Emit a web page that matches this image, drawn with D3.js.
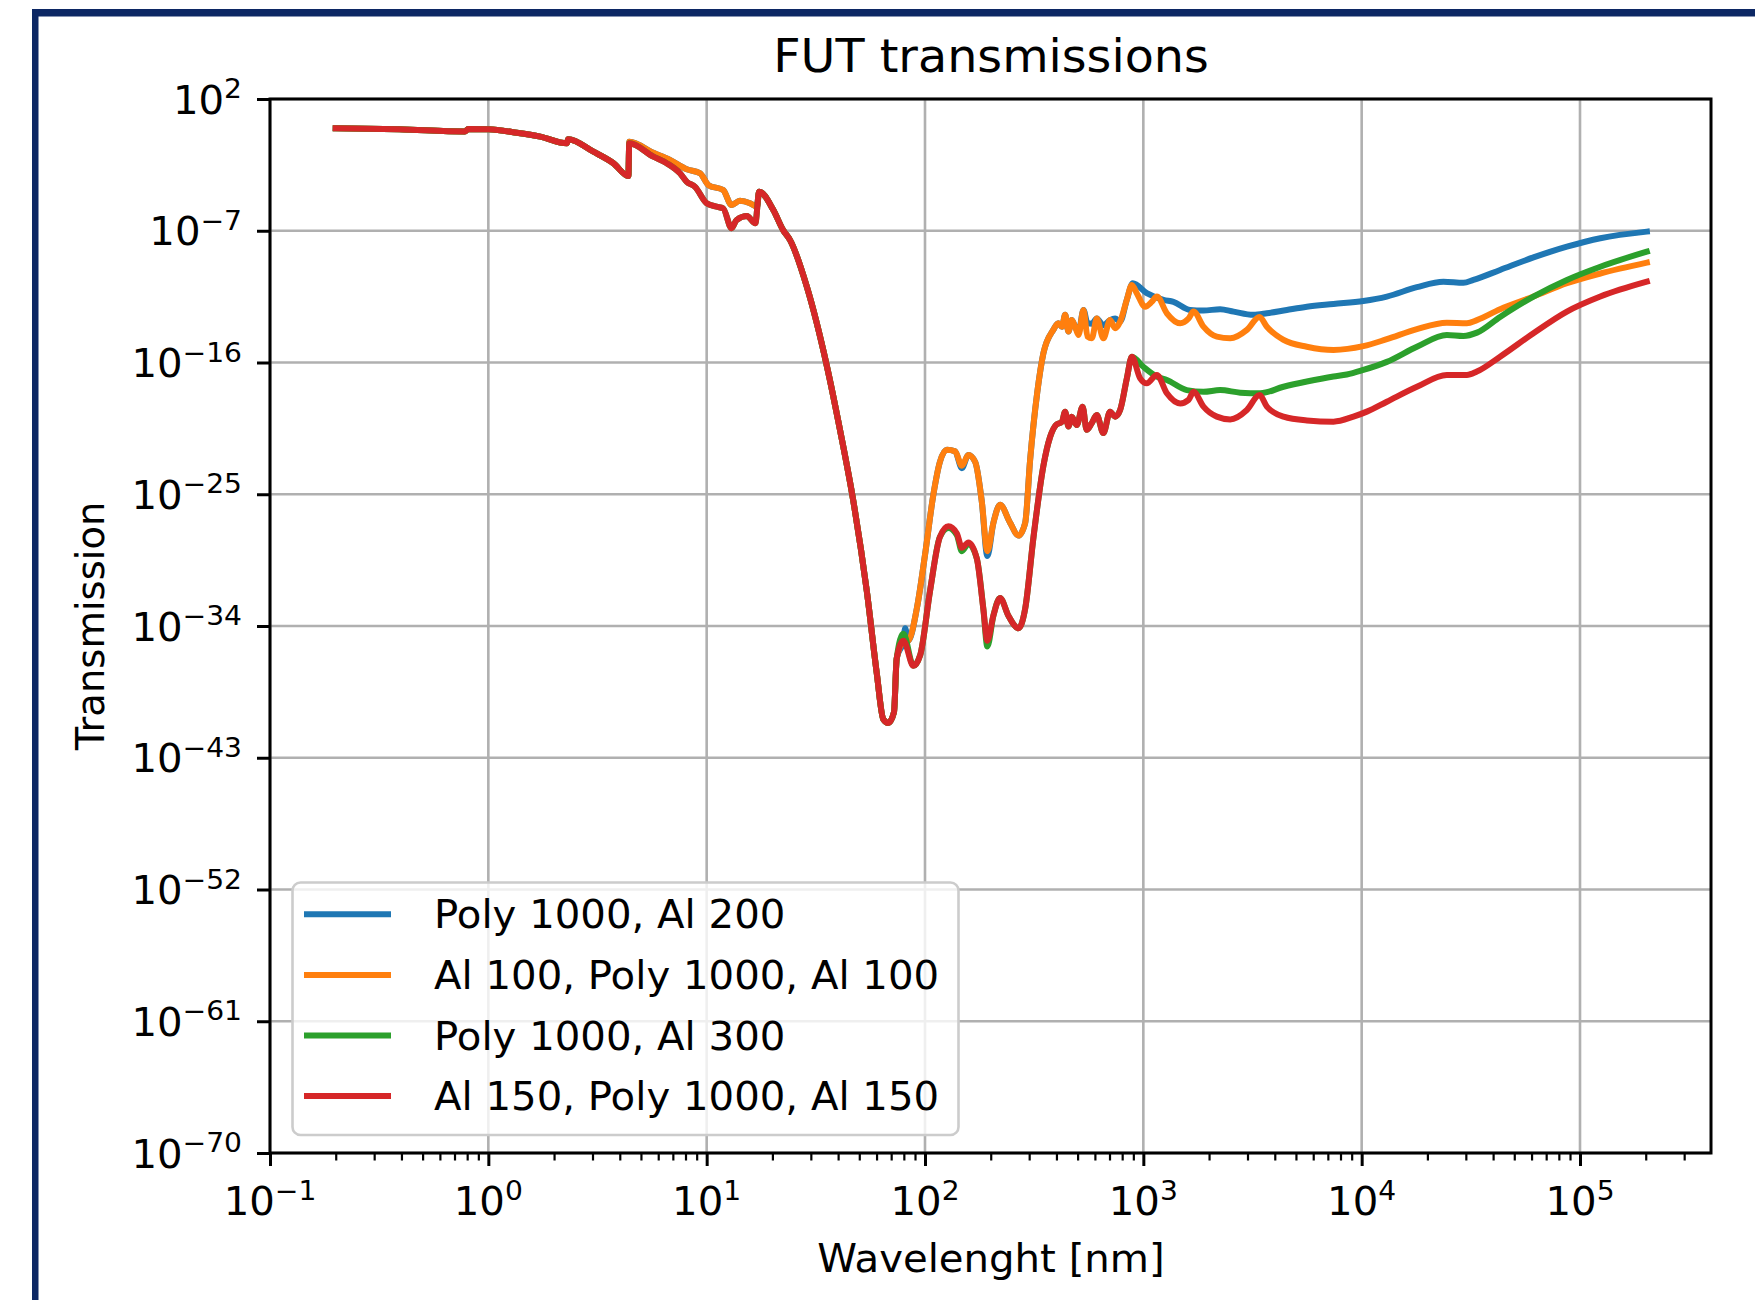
<!DOCTYPE html>
<html><head><meta charset="utf-8">
<script src="https://cdn.jsdelivr.net/npm/d3@7"></script>
<style>body{margin:0;background:#fff}svg{display:block}</style>
</head><body>
<svg id="chart" width="1755" height="1300"></svg>
<script>
// ---------------- DATA ----------------
const seriesNames = ["Poly 1000, Al 200", "Al 100, Poly 1000, Al 100", "Poly 1000, Al 300", "Al 150, Poly 1000, Al 150"];
const seriesColors = ["#1f77b4", "#ff7f0e", "#2ca02c", "#d62728"];
const xTickExp = [-1, 0, 1, 2, 3, 4, 5];
const yTickExp = [2, -7, -16, -25, -34, -43, -52, -61, -70];

// wavelength in nm, transmission (fraction)
// X-ray start, shared by all four filters
const wlStart = [0.2, 0.39, 0.78, 0.81, 1.0, 1.35, 1.73, 2.29, 2.32, 3.03, 3.74, 4.38];
const tStart  = [1.0, 0.85, 0.6, 0.9, 0.85, 0.5, 0.27, 0.094, 0.18, 0.025, 4.1e-3, 5.5e-4];
// edge region, 200 nm total Al (blue / orange)
const wlEdgeThin = [4.42, 5.7, 6.79, 8.11, 9.33, 10.2, 11.9, 13.0, 14.2, 15.8, 17.0];
const tEdgeThin  = [0.12, 0.021, 6.8e-3, 1.6e-3, 8.4e-4, 1.3e-4, 6e-5, 5.8e-6, 1.1e-5, 7.6e-6, 4.4e-6];
// edge region, 300 nm total Al (green / red)
const wlEdgeThick = [4.42, 5.7, 6.56, 7.55, 8.11, 8.85, 10.0, 11.1, 11.9, 13.0, 13.7, 15.3, 16.7];
const tEdgeThick  = [0.094, 0.0115, 4.1e-3, 8.4e-4, 2.2e-4, 1.0e-4, 7.6e-6, 4.4e-6, 3.4e-6, 1.5e-7, 5.4e-7, 1.0e-6, 3.2e-7];
// EUV trough, shared
const wlTrough = [17.4, 20.2, 22.4, 24.1, 28.8, 35.5, 40.8, 47.0, 54.1, 60.1, 64.4, 67.9, 72.1, 74.2];
const tTrough  = [4.7e-5, 2.6e-6, 1.1e-7, 2.3e-8, 1.4e-11, 6e-17, 2.5e-21, 3.2e-26, 2.6e-32, 6.3e-38, 4.3e-41, 2.4e-41, 1.3e-40, 6e-37];
// UV region
const wlUvBlue = [79.6, 81.1, 83.9, 91.7, 100, 109.3, 117, 126, 137.4, 147.5, 158, 169.8, 182, 193, 205.7, 220.7, 245.5, 268, 287.6, 303, 326.5, 348.6, 387, 408];
const tUvBlue  = [1e-35, 7e-35, 1e-35, 1.5e-33, 7.1e-30, 1e-25, 1.6e-23, 1.1e-22, 8.5e-23, 6e-24, 4.8e-23, 1.6e-23, 3.2e-26, 6e-30, 1.1e-27, 1.9e-26, 1.1e-27, 1.5e-28, 1.1e-27, 2.2e-23, 8.3e-19, 4.3e-16, 1.7e-14, 4.8e-14];
const wlUvOrange = [79.6, 83.9, 91.7, 100, 109.3, 117, 126, 137.4, 147.5, 158, 169.8, 182, 193, 205.7, 220.7, 245.5, 268, 287.6, 303, 326.5, 348.6, 387, 408];
const tUvOrange  = [8e-36, 1e-35, 1.5e-33, 7.1e-30, 1e-25, 1.6e-23, 1.1e-22, 8.5e-23, 8.9e-24, 4.8e-23, 1.6e-23, 3.2e-26, 1.3e-29, 1.1e-27, 1.9e-26, 1.1e-27, 1.5e-28, 1.1e-27, 2.2e-23, 8.3e-19, 4.3e-16, 1.7e-14, 4.8e-14];
const wlUvThick = [79.6, 88.5, 95, 105.5, 117, 128, 140, 147.5, 158, 172.7, 185, 193, 205.7, 220.7, 241, 268, 287.6, 314, 348.6, 374, 398, 424];
const tUvGreen  = [3e-35, 1.9e-37, 1e-36, 2.6e-32, 1.2e-28, 5e-28, 1.6e-28, 1.3e-29, 4e-29, 4.1e-30, 1.5e-33, 4e-36, 5.1e-34, 8.3e-33, 5.1e-34, 7e-35, 1.5e-33, 1.2e-28, 8.9e-24, 8.1e-22, 5.4e-21, 9.1e-21];
const tUvRed    = [1e-35, 1.9e-37, 1e-36, 2.6e-32, 1.2e-28, 6.4e-28, 2.1e-28, 2.2e-29, 5.1e-29, 4.1e-30, 1.5e-33, 1e-35, 5.1e-34, 8.3e-33, 5.1e-34, 7e-35, 1.5e-33, 1.2e-28, 8.9e-24, 8.1e-22, 5.4e-21, 9.1e-21];
// interference region
const wlOscBlue = [424, 438.5, 454, 470, 487, 505, 532, 555, 581, 612, 656, 704, 743, 783, 840, 895];
const tOscBlue  = [2.8e-14, 1.8e-13, 1.3e-14, 7.9e-14, 2.8e-14, 1.2e-14, 3.9e-13, 4.8e-14, 4.5e-14, 1e-13, 3.5e-14, 7.9e-14, 1e-13, 6.2e-14, 1.9e-12, 2.6e-11];
const wlOscThin = [424, 438.5, 454, 470, 487, 505, 532, 555, 581, 612, 656, 704, 743, 783, 840, 886];
const tOscThin  = [2.8e-14, 1.8e-13, 1.3e-14, 7.9e-14, 2.8e-14, 7.6e-15, 3.9e-13, 5.8e-15, 4.5e-15, 1e-13, 4.5e-15, 7.9e-14, 2.2e-14, 6.2e-14, 1.9e-12, 2e-11];
const wlOscThick = [438.5, 454, 470, 495.5, 527, 550, 580, 612, 656, 704, 743, 783, 840, 886];
const tOscThick  = [4.4e-20, 4.2e-21, 2e-20, 5.4e-21, 9.6e-20, 2.5e-21, 7.1e-21, 2.6e-20, 1.5e-21, 4.4e-20, 2e-20, 5.7e-20, 8e-18, 2.5e-16];
// infrared tails
const wlTailBlue = [1037, 1237, 1374, 1637, 1886, 2248, 2590, 3190, 3680, 4540, 5610, 7430, 10180, 13040, 17900, 23700, 29240, 32500, 43050, 61200, 87100, 123900, 202400];
const tTailBlue  = [5.4e-12, 1.9e-12, 1.4e-12, 3.9e-13, 3.5e-13, 4.4e-13, 3e-13, 1.8e-13, 2.3e-13, 3.9e-13, 6.5e-13, 1e-12, 1.6e-12, 3.2e-12, 1.4e-11, 3.3e-11, 2.8e-11, 4.4e-11, 2.1e-10, 1.5e-9, 8.1e-9, 3.1e-8, 8.7e-8];
const wlTailOrange = [933, 1019, 1093, 1153, 1282, 1476, 1611, 1698, 1886, 2171, 2500, 2980, 3404, 3680, 4387, 5610, 7430, 10180, 13040, 17900, 24550, 30330, 33730, 43050, 61200, 87100, 123900, 202400];
const tTailOrange  = [5.4e-12, 6.5e-13, 1.4e-12, 3.2e-12, 2.3e-13, 4.8e-14, 1e-13, 3e-13, 2.8e-14, 5.8e-15, 4.5e-15, 1.7e-14, 1.3e-13, 2.8e-14, 3.5e-15, 1.2e-15, 7.2e-16, 1.3e-15, 3.9e-15, 1.9e-14, 5.2e-14, 4.8e-14, 7.9e-14, 4.4e-13, 3.2e-12, 2.6e-11, 1.2e-10, 6.6e-10];
const wlTailGreen = [1000, 1153, 1282, 1581, 1886, 2248, 2778, 3430, 4387, 5610, 7430, 8550, 10180, 13040, 17900, 24550, 29240, 33730, 43050, 61200, 87100, 123900, 202400];
const tTailGreen  = [5.1e-17, 1.1e-17, 6.4e-18, 1.3e-18, 1e-18, 1.3e-18, 8.7e-19, 7.9e-19, 2.2e-18, 5e-18, 1.1e-17, 1.5e-17, 3.1e-17, 1.1e-16, 1.2e-15, 7.6e-15, 6.5e-15, 1.1e-14, 1.3e-13, 3.2e-12, 4.4e-11, 3.5e-10, 3.7e-9];
const wlTailRed = [967, 1037, 1153, 1282, 1476, 1611, 1698, 1886, 2171, 2500, 2980, 3404, 3680, 4387, 5610, 7430, 9170, 10560, 13040, 17900, 24550, 30330, 33700, 43050, 61200, 87100, 123900, 202400];
const tTailRed  = [8.3e-18, 3.8e-18, 1.4e-17, 7.9e-19, 1.6e-19, 2.8e-19, 1e-18, 9.6e-20, 2e-20, 1.3e-20, 5.7e-20, 6e-19, 9.6e-20, 2e-20, 1.1e-20, 9.1e-21, 2e-20, 4.4e-20, 2.1e-19, 2.2e-18, 1.4e-17, 1.4e-17, 2.4e-17, 2.5e-16, 1e-14, 3e-13, 3.2e-12, 3.3e-11];

// ---------------- BUILD SERIES ----------------
function join(wls, ts) {
  const w = [].concat(...wls), t = [].concat(...ts);
  return w.map((v, i) => ({ wl: v, t: t[i] }));
}
const series = [
  join([wlStart, wlEdgeThin, wlTrough, wlUvBlue, wlOscBlue, wlTailBlue], [tStart, tEdgeThin, tTrough, tUvBlue, tOscBlue, tTailBlue]),
  join([wlStart, wlEdgeThin, wlTrough, wlUvOrange, wlOscThin, wlTailOrange], [tStart, tEdgeThin, tTrough, tUvOrange, tOscThin, tTailOrange]),
  join([wlStart, wlEdgeThick, wlTrough, wlUvThick, wlOscThick, wlTailGreen], [tStart, tEdgeThick, tTrough, tUvGreen, tOscThick, tTailGreen]),
  join([wlStart, wlEdgeThick, wlTrough, wlUvThick, wlOscThick, wlTailRed], [tStart, tEdgeThick, tTrough, tUvRed, tOscThick, tTailRed])
];

// ---------------- DRAW ----------------
const W = 1755, H = 1300;
const FONT = "DejaVu Sans";
const SX = 1.045;
const FS = 38.5;
const LW = 6;
const P = { left: 270, right: 1711, top: 99, bottom: 1153 };
const svg = d3.select("#chart").attr("font-family", FONT);
svg.append("rect").attr("width", W).attr("height", H).attr("fill", "#fff");

const navy = "#0c2764";
svg.append("rect").attr("x", 32).attr("y", 9).attr("width", W - 32).attr("height", 7.5).attr("fill", navy);
svg.append("rect").attr("x", 32).attr("y", 9).attr("width", 6.5).attr("height", H - 9).attr("fill", navy);

const x = d3.scaleLog().domain([0.1, Math.pow(10, 5.6)]).range([P.left, P.right]);
const y = d3.scaleLog().domain([1e-70, 1e2]).range([P.bottom, P.top]);
const xMajor = xTickExp.map(e => Math.pow(10, e));
const yMajor = yTickExp.map(e => Math.pow(10, e));
const xMinor = [];
for (let e = -1; e <= 5; e++) for (let m = 2; m <= 9; m++) { const v = m * Math.pow(10, e); if (v <= x.domain()[1]) xMinor.push(v); }

// grid
const grid = svg.append("g").attr("stroke", "#b0b0b0").attr("stroke-width", 2.6);
grid.selectAll("line.gx").data(xMajor).join("line").attr("x1", d => x(d)).attr("x2", d => x(d)).attr("y1", P.top).attr("y2", P.bottom);
grid.selectAll("line.gy").data(yMajor).join("line").attr("y1", d => y(d)).attr("y2", d => y(d)).attr("x1", P.left).attr("x2", P.right);

// lines
const line = d3.line().x(d => x(d.wl)).y(d => y(d.t)).curve(d3.curveMonotoneX);
svg.append("g").selectAll("path").data(series).join("path")
  .attr("d", line).attr("fill", "none")
  .attr("stroke", (d, i) => seriesColors[i]).attr("stroke-width", LW)
  .attr("stroke-linejoin", "round").attr("stroke-linecap", "square");

// axes ticks
const xAxisMajor = d3.axisBottom(x).tickValues(xMajor).tickSize(13).tickFormat("");
const xAxisMinor = d3.axisBottom(x).tickValues(xMinor).tickSize(7.5).tickFormat("");
const yAxis = d3.axisLeft(y).tickValues(yMajor).tickSize(13).tickFormat("");
const gxM = svg.append("g").attr("transform", `translate(0,${P.bottom})`).call(xAxisMajor);
const gxm = svg.append("g").attr("transform", `translate(0,${P.bottom})`).call(xAxisMinor);
const gy = svg.append("g").attr("transform", `translate(${P.left},0)`).call(yAxis);
[gxM, gxm, gy].forEach(g => g.select(".domain").remove());
gxM.selectAll("line").attr("stroke", "#000").attr("stroke-width", 3);
gy.selectAll("line").attr("stroke", "#000").attr("stroke-width", 3);
gxm.selectAll("line").attr("stroke", "#000").attr("stroke-width", 2.2);

// spines
svg.append("rect").attr("x", P.left).attr("y", P.top).attr("width", P.right - P.left).attr("height", P.bottom - P.top)
  .attr("fill", "none").attr("stroke", "#000").attr("stroke-width", 3);

function powLabel(px, py, exp, anchor) {
  const t = svg.append("text").attr("transform", `translate(${px},${py}) scale(${SX},1)`)
    .attr("text-anchor", anchor).attr("font-size", FS).attr("fill", "#000");
  t.append("tspan").text("10");
  t.append("tspan").attr("font-size", FS * 0.7).attr("dy", -FS * 0.4).text(exp < 0 ? "\u2212" + (-exp) : String(exp));
}
xTickExp.forEach(e => powLabel(x(Math.pow(10, e)), 1215, e, "middle"));
yTickExp.forEach(e => powLabel(242, y(Math.pow(10, e)) + 14.5, e, "end"));

// title and axis labels
svg.append("text").attr("transform", `translate(991,72) scale(${SX},1)`).attr("text-anchor", "middle")
  .attr("font-size", 45.6).text("FUT transmissions");
svg.append("text").attr("transform", `translate(991,1272) scale(${SX},1)`).attr("text-anchor", "middle")
  .attr("font-size", FS).text("Wavelenght [nm]");
svg.append("text").attr("transform", `translate(103.5,626) rotate(-90)`).attr("text-anchor", "middle")
  .attr("font-size", FS).text("Transmission");

// legend
const lg = svg.append("g");
lg.append("rect").attr("x", 292.5).attr("y", 882.5).attr("width", 666).attr("height", 252.5).attr("rx", 8)
  .attr("fill", "#fff").attr("fill-opacity", 0.8).attr("stroke", "#cccccc").attr("stroke-width", 2.6);
const rows = lg.selectAll("g.row").data(seriesNames).join("g").attr("transform", (d, i) => `translate(0,${914.3 + i * 60.6})`);
rows.append("line").attr("x1", 307).attr("x2", 388).attr("y1", 0).attr("y2", 0)
  .attr("stroke", (d, i) => seriesColors[i]).attr("stroke-width", LW).attr("stroke-linecap", "square");
rows.append("text").attr("transform", `translate(434,14) scale(${SX},1)`).attr("font-size", FS).text(d => d);
</script>
</body></html>
